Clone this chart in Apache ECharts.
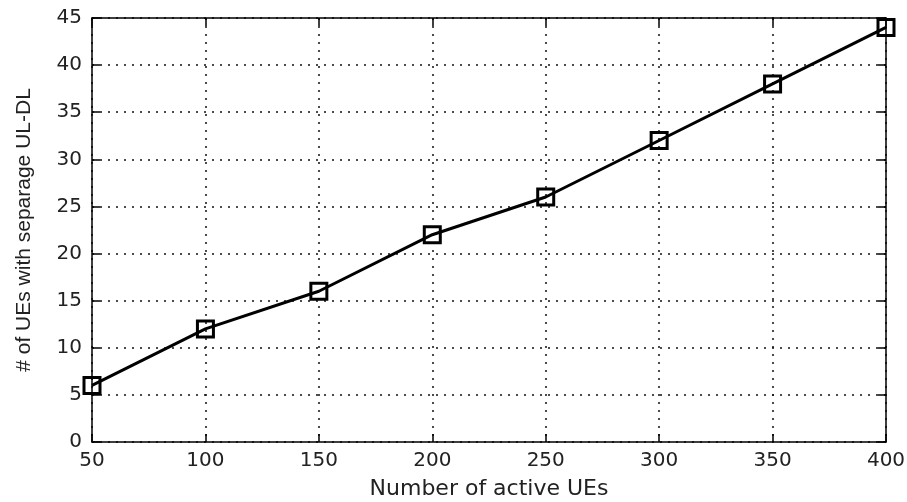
<!DOCTYPE html>
<html><head><meta charset="utf-8">
<script src="https://cdn.jsdelivr.net/npm/echarts@6/dist/echarts.min.js"></script>
<style>html,body{margin:0;padding:0;background:#fff}#c{width:907px;height:502px}</style>
</head><body><div id="c"></div>
<script>
var xValues = [50, 100, 150, 200, 250, 300, 350, 400];
var yValues = [6, 12, 16, 22, 26, 32, 38, 44];
var xTitle = 'Number of active UEs';
var yTitle = '# of UEs with separage UL-DL';

var data = xValues.map(function (x, i) { return [x, yValues[i]]; });
var wide = 'DejaVu Sans, Verdana, sans-serif';
var arial = 'Liberation Sans, Arial, sans-serif';
var chart = echarts.init(document.getElementById('c'));
var axisLine = { show: true, onZero: false, lineStyle: { color: '#000', width: 1.5 } };
var tick = { show: true, inside: true, length: 8, lineStyle: { color: '#000', width: 1.5 } };
var split = { show: true, lineStyle: { color: '#111', type: [2, 6], width: 1.5 } };
chart.setOption({
  animation: false,
  backgroundColor: '#fff',
  grid: { left: 92, right: 21, top: 18, bottom: 60, containLabel: false, outerBoundsMode: 'none' },
  xAxis: [{
    type: 'value', min: 50, max: 400, interval: 50, position: 'bottom',
    name: xTitle, nameLocation: 'middle', nameGap: 36,
    nameTextStyle: { color: '#222', fontSize: 22, fontFamily: wide },
    axisLine: axisLine, axisTick: tick,
    axisLabel: { color: '#222', fontSize: 20, fontFamily: wide, margin: 9 },
    splitLine: split
  }, {
    type: 'value', min: 50, max: 400, interval: 50, position: 'top',
    axisLine: axisLine, axisTick: tick, axisLabel: { show: false }, splitLine: { show: false }
  }],
  yAxis: [{
    type: 'value', min: 0, max: 45, interval: 5, position: 'left',
    name: yTitle, nameLocation: 'middle', nameGap: 57, nameRotate: 90,
    nameTextStyle: { color: '#222', fontSize: 21, fontFamily: arial },
    axisLine: axisLine, axisTick: tick,
    axisLabel: { color: '#222', fontSize: 20, fontFamily: wide, margin: 10 },
    splitLine: split
  }, {
    type: 'value', min: 0, max: 45, interval: 5, position: 'right',
    axisLine: axisLine, axisTick: tick, axisLabel: { show: false }, splitLine: { show: false }
  }],
  series: [{
    type: 'line', data: data, xAxisIndex: 0, yAxisIndex: 0,
    symbol: 'rect', symbolSize: 16,
    lineStyle: { color: '#000', width: 3 },
    itemStyle: { color: 'rgba(255,255,255,0)', borderColor: '#000', borderWidth: 3 },
    clip: false
  }]
});
</script></body></html>
